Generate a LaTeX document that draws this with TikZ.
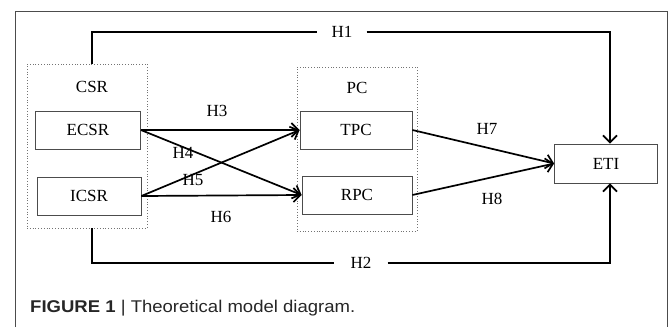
\documentclass[tikz,border=0pt]{standalone}
\usepackage{fontspec}
\setmainfont{Liberation Serif}
\newfontfamily\piefont[FakeStretch=1.09]{Liberation Sans}
\usetikzlibrary{arrows.meta}
\begin{document}
\begin{tikzpicture}[x=1pt,y=-1pt,
    caja/.style={draw=black!70,line width=0.8pt,minimum height=38pt,inner sep=0pt,font=\fontsize{17}{19}\selectfont},
    grupo/.style={draw=black!55,dotted,line width=0.8pt,minimum width=120pt,minimum height=164pt,inner sep=0pt},
    rotulo/.style={inner sep=0pt,font=\fontsize{17}{19}\selectfont},
    linea/.style={line width=1.7pt},
    flecha/.style={line width=1.7pt,-{Straight Barb[length=7pt,width=14pt,line width=1.7pt]}}]
    \useasboundingbox (0,0) rectangle (670,327);
    % Marco
    \draw[black!70,line width=0.8pt] (15,327) -- (15,11) -- (667,11) -- (667,327);
    % Grupos
    \node[grupo] (csrbox) at (87,146) {};
    \node[rotulo] (csr) at (92,87) {CSR};
    \node[grupo] (pcbox) at (357,149) {};
    \node[rotulo] (pc) at (357,88) {PC};
    % Variables
    \node[caja,minimum width=105pt] (ecsr) at (88,130) {ECSR};
    \node[caja,minimum width=104pt] (icsr) at (89,196) {ICSR};
    \node[caja,minimum width=112pt] (tpc) at (356,130) {TPC};
    \node[caja,minimum width=110pt] (rpc) at (357,195) {RPC};
    \node[caja,minimum width=103pt,minimum height=39pt] (eti) at (606,163.5) {ETI};
    % Rotulos de hipotesis
    \node[rotulo,inner xsep=14pt] (h1) at (342,32) {H1};
    \node[rotulo,inner xsep=16pt] (h2) at (361,263) {H2};
    \node[rotulo] (h3) at (217,111) {H3};
    \node[rotulo] (h4) at (183,153) {H4};
    \node[rotulo] (h5) at (193,180) {H5};
    \node[rotulo] (h6) at (221,217) {H6};
    \node[rotulo] (h7) at (487,129) {H7};
    \node[rotulo] (h8) at (492,199) {H8};
    % Efectos directos
    \draw[linea] (csr |- csrbox.north) |- (h1.west);
    \draw[flecha] (h1.east) -| ([xshift=4pt]eti.north);
    \draw[linea] (csr |- csrbox.south) |- (h2.west);
    \draw[flecha] (h2.east) -| ([xshift=4pt]eti.south);
    % Efectos mediados
    \draw[flecha] (ecsr.east) -- (tpc.west);
    \draw[flecha] (ecsr.east) -- (rpc.west);
    \draw[flecha] (icsr.east) -- (tpc.west);
    \draw[flecha] (icsr.east) -- (rpc.west);
    \draw[flecha] (tpc.east) -- (eti.west);
    \draw[flecha] (rpc.east) -- (eti.west);
    % Pie
    \node[anchor=west,inner sep=0pt,text=black!85,font=\piefont\fontsize{17}{19}\selectfont] (pie) at (30,308)
        {\textbf{FIGURE 1} | Theoretical model diagram.};
\end{tikzpicture}
\end{document}
